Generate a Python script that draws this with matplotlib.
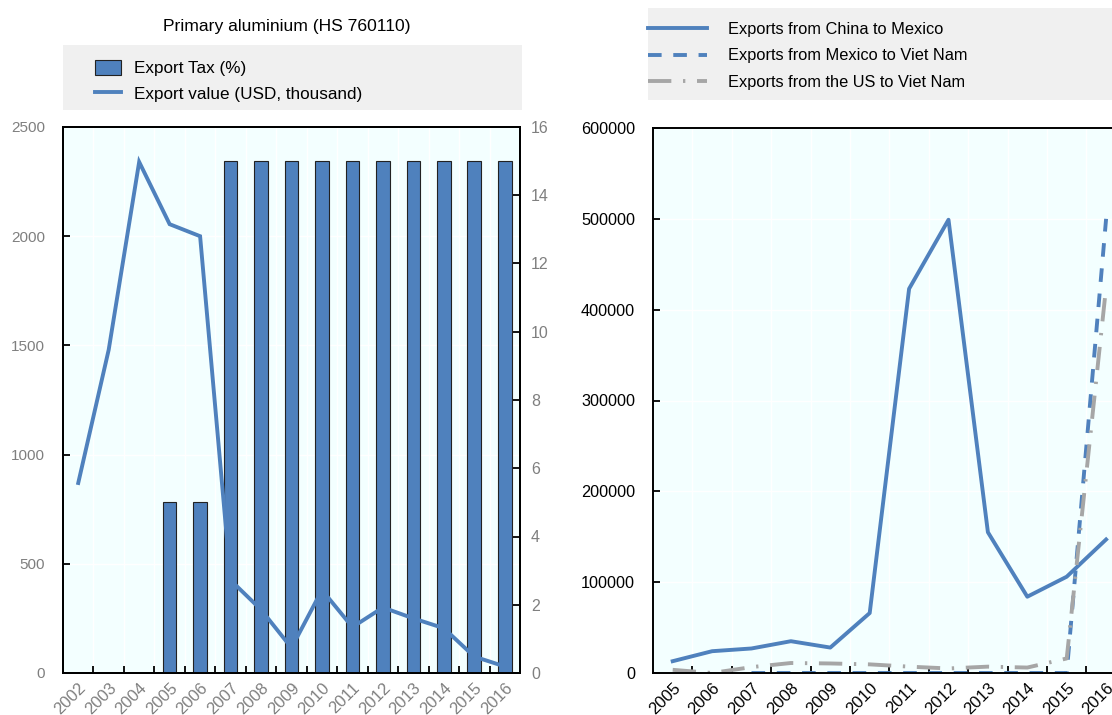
import numpy as np
import matplotlib.pyplot as plt
from matplotlib.patches import Rectangle, Patch
from matplotlib.lines import Line2D
from matplotlib.transforms import ScaledTranslation

plt.rcParams['font.family'] = ['Liberation Sans', 'DejaVu Sans']

# left panel: primary aluminium
years_left = ['2002', '2003', '2004', '2005', '2006', '2007', '2008', '2009',
              '2010', '2011', '2012', '2013', '2014', '2015', '2016']
export_tax = [0, 0, 0, 5, 5, 15, 15, 15, 15, 15, 15, 15, 15, 15, 15]
export_value = [870, 1480, 2340, 2055, 2000, 425, 290, 115, 380, 210,
                300, 250, 205, 75, 30]

# right panel: trade flows
years_right = ['2005', '2006', '2007', '2008', '2009', '2010', '2011', '2012',
               '2013', '2014', '2015', '2016']
china_mexico = [13000, 24000, 27000, 35000, 28000, 66000, 423000, 499000,
                155000, 84000, 106000, 147000]
mexico_vietnam = [np.nan, np.nan, 0, 0, 0, 0, 0, 0, 0, 0, 0, 500000]
us_vietnam = [3500, 0, 6500, 11000, 10500, 9500, 7000, 5000, 7000, 6000,
              16000, 425000]

BLUE = '#4F81BD'
GREY = '#A6A6A6'
BG = '#F3FFFF'
LEG_BG = '#F0F0F0'
TICK_GREY = '#7F7F7F'

fig = plt.figure(figsize=(11.12, 7.15), dpi=100)
W, H = 1112, 715


def fbox(x0, y0, x1, y1):
    # pixel box (top-left origin) -> figure fraction rect
    return [x0 / W, 1 - y1 / H, (x1 - x0) / W, (y1 - y0) / H]


def style_axis(ax, n, labels, color, ysize):
    x = np.arange(n)
    ax.set_xlim(-0.5, n - 0.5)
    ax.set_xticks(x)
    ax.set_xticklabels(labels, rotation=45, ha='right', rotation_mode='anchor')
    shift = ScaledTranslation(5 / 72, 0, fig.dpi_scale_trans)
    for lab in ax.get_xticklabels():
        lab.set_transform(lab.get_transform() + shift)
    ax.set_xticks(x[:-1] + 0.5, minor=True)
    ax.tick_params(axis='x', which='major', length=0, pad=5, labelsize=12, colors=color)
    ax.tick_params(axis='x', which='minor', direction='in', length=5, width=1.3)
    ax.tick_params(axis='y', direction='in', length=5, width=1.3, labelsize=ysize,
                   labelcolor=color, pad=13)
    ax.set_facecolor(BG)
    ax.grid(True, which='minor', axis='x', color='white', lw=1)
    ax.grid(True, which='major', axis='y', color='white', lw=1)
    ax.set_axisbelow(True)
    for s in ax.spines.values():
        s.set_linewidth(1.4)
        s.set_color('black')


# ---- left panel
ax = fig.add_axes(fbox(63, 127, 520, 673))
style_axis(ax, len(years_left), years_left, TICK_GREY, 11)
ax.set_ylim(0, 2500)
ax.set_yticks(range(0, 2501, 500))

ax2 = ax.twinx()
ax2.set_ylim(0, 16)
ax2.set_yticks(range(0, 17, 2))
ax2.tick_params(axis='y', direction='in', length=5, width=1.3, labelsize=11.5,
                labelcolor=TICK_GREY, pad=8)
for s in ax2.spines.values():
    s.set_linewidth(1.4)
xl = np.arange(len(years_left))
ax2.bar(xl, export_tax, width=0.45, color=BLUE, edgecolor='#222222', linewidth=0.8)
ax2.plot(xl, export_value, color=BLUE, lw=2.8, transform=ax.transData,
         solid_joinstyle='miter')

fig.text(287 / W, 1 - 26 / H, 'Primary aluminium (HS 760110)', ha='center',
         va='center', fontsize=12.6)
fig.patches.append(Rectangle((63 / W, 1 - 110 / H), (522 - 63) / W, 65 / H,
                             transform=fig.transFigure, facecolor=LEG_BG,
                             edgecolor='none', zorder=0))
h_left = [Patch(facecolor=BLUE, edgecolor='#222222', linewidth=0.8),
          Line2D([], [], color=BLUE, lw=2.8)]
fig.legend(h_left, ['Export Tax (%)', 'Export value (USD, thousand)'],
           loc='upper left', bbox_to_anchor=(95 / W, 1 - 60 / H), frameon=False,
           fontsize=12.3, handlelength=1.5, handleheight=1.0, handletextpad=0.8,
           labelspacing=0.5, borderpad=0, borderaxespad=0)

# ---- right panel
axr = fig.add_axes(fbox(653, 128, 653 + 12 * 39.4, 673))
style_axis(axr, len(years_right), years_right, 'black', 11.7)
axr.set_ylim(0, 600000)
axr.set_yticks(range(0, 600001, 100000))
xr = np.arange(len(years_right))
axr.plot(xr, china_mexico, color=BLUE, lw=2.8, label='Exports from China to Mexico')
axr.plot(xr, mexico_vietnam, color=BLUE, lw=2.8, dashes=(3.5, 3),
         label='Exports from Mexico to Viet Nam')
axr.plot(xr, us_vietnam, color=GREY, lw=2.8, dashes=(6, 3, 0.6, 3),
         label='Exports from the US to Viet Nam')

fig.patches.append(Rectangle((648 / W, 1 - 100 / H), (1112 - 648) / W, 92 / H,
                             transform=fig.transFigure, facecolor=LEG_BG,
                             edgecolor='none', zorder=0))
fig.legend(*axr.get_legend_handles_labels(), loc='upper left',
           bbox_to_anchor=(648 / W, 1 - 22 / H), frameon=False, fontsize=11.8,
           handlelength=3.6, handletextpad=1.3, labelspacing=0.7,
           borderpad=0, borderaxespad=0)

fig.savefig('out.png', dpi=100)
